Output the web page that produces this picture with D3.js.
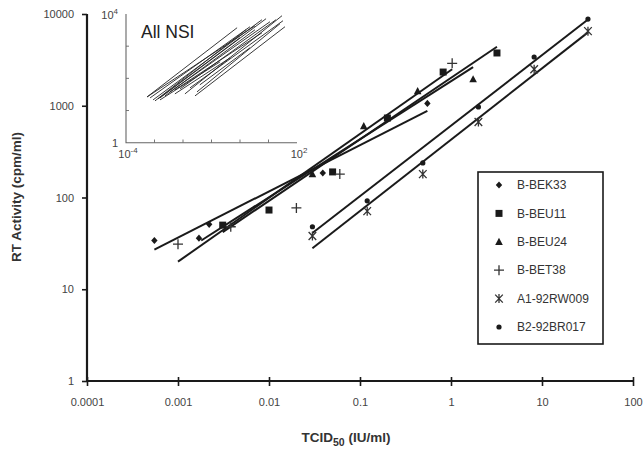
<!DOCTYPE html>
<html lang="en">

<head>
    <meta charset="UTF-8">
    <title>RT activity vs TCID50</title>
    <script src="https://d3js.org/d3.v7.min.js"></script>
    <style>
        body {
            margin: 0;
            background: #fff;
            font-family: "Liberation Sans", Arial, sans-serif;
        }

        .tick text {
            fill: #444;
            font-size: 11px;
        }
    </style>
</head>

<body>
    <svg id="chart" width="643" height="452"></svg>
    <script>
        // tick values
        let xTicks = [0.0001, 0.001, 0.01, 0.1, 1, 10, 100]
        let xTickLabels = ["0.0001", "0.001", "0.01", "0.1", "1", "10", "100"]
        let yTicks = [1, 10, 100, 1000, 10000]
        let yTickLabels = ["1", "10", "100", "1000", "10000"]

        // series: names, markers, points, fitted lines [x1, y1, x2, y2]
        let seriesNames = ["B-BEK33", "B-BEU11", "B-BEU24", "B-BET38", "A1-92RW009", "B2-92BR017"]
        let seriesMarkers = ["diamond", "square", "triangle", "plus", "asterisk", "circle"]

        let bek33X = [0.00055, 0.0017, 0.0022, 0.039, 0.55]
        let bek33Y = [34, 36, 51, 185, 1060]
        let bek33Fit = [0.00055, 27, 0.55, 880]

        let beu11X = [0.0031, 0.01, 0.05, 0.2, 0.82, 3.2]
        let beu11Y = [50, 73, 190, 735, 2330, 3760]
        let beu11Fit = [0.0031, 42, 3.2, 4400]

        let beu24X = [0.03, 0.11, 0.43, 1.75]
        let beu24Y = [180, 600, 1450, 1950]
        let beu24Fit = [0.0018, 34, 1.75, 2640]

        let bet38X = [0.001, 0.0038, 0.02, 0.06, 1.03]
        let bet38Y = [31, 48, 77, 180, 2900]
        let bet38Fit = [0.001, 20, 1.03, 2500]

        let rw009X = [0.03, 0.12, 0.49, 2.0, 8.2, 32]
        let rw009Y = [38, 71, 180, 665, 2500, 6500]
        let rw009Fit = [0.03, 28, 32, 6300]

        let br017X = [0.03, 0.12, 0.49, 2.0, 8.2, 32]
        let br017Y = [48, 92, 238, 970, 3400, 8800]
        let br017Fit = [0.03, 41, 32, 8700]

        // inset "All NSI": fitted lines [x1, y1, x2, y2]
        let nsiLines = [
            [0.00055, 26.5, 0.79, 3740],
            [0.00055, 26.5, 3.36, 4320],
            [0.0007, 24.7, 2.24, 4020],
            [0.00089, 21.4, 5.9, 6640],
            [0.00104, 19.9, 1.62, 3240],
            [0.00133, 23, 1.0, 1830],
            [0.00156, 24.7, 8.2, 7140],
            [0.00233, 28.5, 3.36, 3240],
            [0.0035, 38, 11.3, 5750],
            [0.0052, 43.8, 5.9, 2610],
            [0.0079, 47.1, 18.3, 6640],
            [0.0117, 32.9, 29.8, 8850],
            [0.0176, 50.6, 32.3, 6180],
            [0.0264, 28.5, 37.9, 4020],
            [0.031, 38, 25.3, 4990],
            [0.039, 62.8, 2.24, 891],
            [0.00156, 21.4, 0.2, 327],
            [0.0052, 32.9, 0.45, 435]
        ]

        let series = [
            { x: bek33X, y: bek33Y, fit: bek33Fit },
            { x: beu11X, y: beu11Y, fit: beu11Fit },
            { x: beu24X, y: beu24Y, fit: beu24Fit },
            { x: bet38X, y: bet38Y, fit: bet38Fit },
            { x: rw009X, y: rw009Y, fit: rw009Fit },
            { x: br017X, y: br017Y, fit: br017Fit }
        ].map((s, i) => ({ ...s, name: seriesNames[i], marker: seriesMarkers[i] }))

        let svg = d3.select("#chart")
        let ink = "#1a1a1a"

        let x = d3.scaleLog().domain([0.0001, 100]).range([87, 633])
        let y = d3.scaleLog().domain([1, 10000]).range([381, 14])

        function markerPath(type) {
            switch (type) {
                case "diamond": return "M0,-3.6L3.2,0L0,3.6L-3.2,0Z"
                case "square": return "M-3.5,-3.5H3.5V3.5H-3.5Z"
                case "triangle": return "M0,-4L3.8,3.2H-3.8Z"
                case "circle": return "M2.6,0A2.6,2.6 0 1,1 -2.6,0A2.6,2.6 0 1,1 2.6,0Z"
                case "plus": return "M-5,0H5M0,-5V5"
                case "asterisk": return "M-3.8,-4L3.8,4M3.8,-4L-3.8,4M0,-4.5V4.5"
            }
        }
        let strokeMarkers = ["plus", "asterisk"]

        // axes
        let xAxis = svg.append("g")
            .attr("transform", "translate(0,381)")
            .call(d3.axisBottom(x).tickValues(xTicks)
                .tickFormat((d, i) => xTickLabels[i]).tickSize(5).tickPadding(12))
        xAxis.selectAll(".tick line").attr("y1", -4).attr("stroke", ink).attr("stroke-width", 1.6)
        xAxis.select(".domain").attr("stroke", ink).attr("stroke-width", 2.2)
            .attr("d", "M87,0H633")

        let yAxis = svg.append("g")
            .attr("transform", "translate(87,0)")
            .call(d3.axisLeft(y).tickValues(yTicks)
                .tickFormat((d, i) => yTickLabels[i]).tickSize(5).tickPadding(8))
        yAxis.selectAll(".tick line").attr("stroke", ink).attr("stroke-width", 1.6)
        yAxis.select(".domain").attr("stroke", ink).attr("stroke-width", 2.2)
            .attr("d", "M0,381V14")

        // axis titles
        svg.append("text")
            .attr("transform", "translate(21,197) rotate(-90)")
            .attr("text-anchor", "middle")
            .attr("font-weight", "bold")
            .attr("font-size", 13.5)
            .attr("fill", "#333")
            .text("RT Activity (cpm/ml)")

        let xt = svg.append("text")
            .attr("x", 346).attr("y", 442)
            .attr("text-anchor", "middle")
            .attr("font-weight", "bold")
            .attr("font-size", 13.5)
            .attr("fill", "#333")
        xt.append("tspan").text("TCID")
        xt.append("tspan").attr("dy", 4).attr("font-size", 10.5).text("50")
        xt.append("tspan").attr("dy", -4).text(" (IU/ml)")

        // fitted lines
        svg.append("g").selectAll("line")
            .data(series)
            .join("line")
            .attr("x1", d => x(d.fit[0])).attr("y1", d => y(d.fit[1]))
            .attr("x2", d => x(d.fit[2])).attr("y2", d => y(d.fit[3]))
            .attr("stroke", ink)
            .attr("stroke-width", 2)

        // markers
        series.forEach(s => {
            let filled = strokeMarkers.indexOf(s.marker) < 0
            svg.append("g").selectAll("path")
                .data(s.x.map((v, i) => [v, s.y[i]]))
                .join("path")
                .attr("transform", d => `translate(${x(d[0])},${y(d[1])})`)
                .attr("d", markerPath(s.marker))
                .attr("fill", filled ? ink : "none")
                .attr("stroke", filled ? "none" : "#333")
                .attr("stroke-width", 1.3)
        })

        // legend
        let legend = svg.append("g")
        legend.append("rect")
            .attr("x", 478).attr("y", 172).attr("width", 125).attr("height", 172)
            .attr("fill", "#fff").attr("stroke", ink).attr("stroke-width", 1.6)
        let entries = legend.selectAll("g.entry")
            .data(series)
            .join("g")
            .attr("class", "entry")
            .attr("transform", (d, i) => `translate(499,${185 + i * 28.4})`)
        entries.append("path")
            .attr("d", d => markerPath(d.marker))
            .attr("fill", d => strokeMarkers.indexOf(d.marker) < 0 ? ink : "none")
            .attr("stroke", d => strokeMarkers.indexOf(d.marker) < 0 ? "none" : "#333")
            .attr("stroke-width", 1.3)
        entries.append("text")
            .attr("x", 18).attr("dy", "0.35em")
            .attr("font-size", 12)
            .attr("fill", "#333")
            .text(d => d.name)

        // inset
        let ix = d3.scaleLog().domain([0.0001, 100]).range([126, 297])
        let iy = d3.scaleLog().domain([1, 10000]).range([142.7, 14])
        let inset = svg.append("g")

        inset.append("g").selectAll("line")
            .data(d3.range(-3, 2).map(e => Math.pow(10, e)))
            .join("line")
            .attr("x1", d => ix(d)).attr("x2", d => ix(d))
            .attr("y1", 142.7).attr("y2", 139.5)
            .attr("stroke", "#777")
        inset.append("g").selectAll("line")
            .data([10, 100, 1000])
            .join("line")
            .attr("y1", d => iy(d)).attr("y2", d => iy(d))
            .attr("x1", 126).attr("x2", 129)
            .attr("stroke", "#777")
        inset.append("path")
            .attr("d", `M${ix(0.0001)},${iy(10000)}V${iy(1)}H${ix(100)}`)
            .attr("fill", "none").attr("stroke", "#666").attr("stroke-width", 1.1)

        function powLabel(px, py, base, sup, anchor) {
            let t = inset.append("text")
                .attr("x", px).attr("y", py)
                .attr("text-anchor", anchor)
                .attr("font-size", 11).attr("fill", "#444")
            t.append("tspan").text(base)
            if (sup) t.append("tspan").attr("dy", -5).attr("font-size", 8).text(sup)
        }
        powLabel(118, 19, "10", "4", "end")
        powLabel(118, 146.5, "1", null, "end")
        powLabel(128, 158, "10", "-4", "middle")
        powLabel(299, 158, "10", "2", "middle")

        inset.append("text")
            .attr("x", 141).attr("y", 38)
            .attr("font-size", 17.5).attr("fill", "#222")
            .text("All NSI")

        inset.append("g").selectAll("line")
            .data(nsiLines)
            .join("line")
            .attr("x1", d => ix(d[0])).attr("y1", d => iy(d[1]))
            .attr("x2", d => ix(d[2])).attr("y2", d => iy(d[3]))
            .attr("stroke", "#222")
            .attr("stroke-width", 0.9)
    </script>
</body>

</html>
